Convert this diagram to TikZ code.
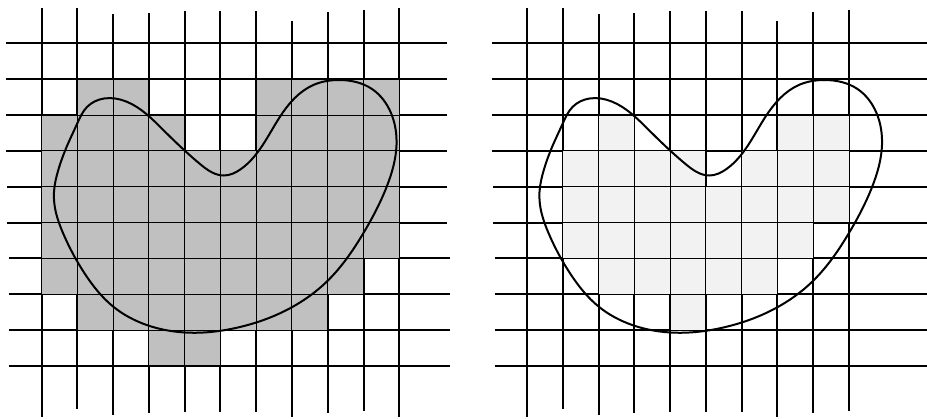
\documentclass[tikz,border=0pt]{standalone}
\usetikzlibrary{hobby}
\definecolor{darkcell}{HTML}{C0C0C0}
\definecolor{lightcell}{HTML}{F2F2F2}
\tikzset{
  gridline/.style={line width=2pt, black},
  blob/.style={line width=2pt, black, line join=round},
}
% #1 last column index, #2 rows/cells list, #3 fill colour
\newcommand\blobgrid[3]{%
  \foreach \i/\t/\b in {0/8/417, 1/8/409, 2/14/415, 3/13/413, 4/11/412, 5/11/412,
                        6/11/412, 7/21/417, 8/12/413, 9/10/411, 10/8/417}{
    \ifnum\i>#1\relax\else
      \draw[gridline] ({41.6+35.77*\i},\t) -- ({41.6+35.77*\i},\b);
    \fi
  }
  \foreach \j/\l/\r in {0/6/447, 1/6/447, 2/6/447, 3/6/447, 4/7/447, 5/7/447,
                        6/9/450, 7/9/450, 8/9/450, 9/9/450}{
    \draw[gridline] (\l,{43.3+35.85*\j}) -- (\r,{43.3+35.85*\j});
  }
  \foreach \rr/\cs in {#2}{
    \foreach \c in \cs {
      \fill[#3] ({41.6+35.77*\c+0.5},{43.3+35.85*\rr+0.5})
        rectangle ({41.6+35.77*(\c+1)-0.5},{43.3+35.85*(\rr+1)-0.5});
    }
  }
  \draw[blob, use Hobby shortcut, closed=true]
    (87,107) .. (104,98.5) .. (126.7,101.7) .. (163.3,130) .. (200,164) .. (224,175.5)
    .. (241,169) .. (280,116.7) .. (313.3,85) .. (340,80) .. (372,89) .. (391,113)
    .. (396.5,145) .. (386.7,186.7) .. (363.3,233.3) .. (326.7,281.7) .. (286.7,310)
    .. (240,327) .. (190,332.7) .. (146.7,325) .. (113.3,306.7) .. (85,274)
    .. (63,233) .. (55,208) .. (54,192) .. (58.3,170) .. (66.7,146.7) .. (77,124);
}
\begin{document}
\begin{tikzpicture}[x=1pt,y=-1pt]
\useasboundingbox (0,0) rectangle (927,418);
\begin{scope}
  \blobgrid{10}{1/{1,2,6,7,8,9}, 2/{0,1,2,3,6,7,8,9}, 3/{0,1,2,3,4,5,6,7,8,9},
    4/{0,1,2,3,4,5,6,7,8,9}, 5/{0,1,2,3,4,5,6,7,8,9}, 6/{0,1,2,3,4,5,6,7,8},
    7/{1,2,3,4,5,6,7}, 8/{3,4}}{darkcell}
\end{scope}
\begin{scope}[xshift=485.5pt]
  \blobgrid{9}{2/{2,7,8}, 3/{1,2,3,4,6,7,8}, 4/{1,2,3,4,5,6,7,8},
    5/{1,2,3,4,5,6,7}, 6/{2,3,4,5,6}, 7/{4}}{lightcell}
\end{scope}
\end{tikzpicture}
\end{document}
